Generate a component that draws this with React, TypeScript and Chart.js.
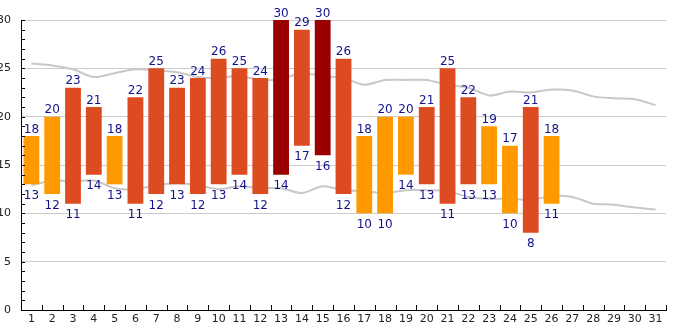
import React, { useEffect, useRef } from "react";
import { Chart, registerables } from "chart.js";

Chart.register(...registerables);

const days = Array.from({ length: 31 }, (_, i) => String(i + 1));
const maxTemps = [18, 20, 23, 21, 18, 22, 25, 23, 24, 26, 25, 24, 30, 29, 30, 26, 18, 20, 20, 21, 25, 22, 19, 17, 21, 18];
const minTemps = [13, 12, 11, 14, 13, 11, 12, 13, 12, 13, 14, 12, 14, 17, 16, 12, 10, 10, 14, 13, 11, 13, 13, 10, 8, 11];
const normalMax = [25.5, 25.3, 24.9, 24.1, 24.5, 24.9, 24.8, 24.6, 24.1, 24.0, 24.2, 23.8, 23.9, 24.5, 24.2, 24.0, 23.3, 23.8, 23.8, 23.8, 23.3, 23.0, 22.2, 22.6, 22.5, 22.8, 22.7, 22.1, 21.9, 21.8, 21.2];
const normalMin = [12.9, 13.4, 13.3, 13.4, 12.6, 12.5, 12.9, 13.1, 12.9, 12.5, 12.8, 12.6, 12.6, 12.1, 12.8, 12.4, 12.3, 12.1, 12.4, 12.4, 12.3, 11.7, 11.5, 11.5, 11.4, 11.8, 11.7, 11.0, 10.9, 10.6, 10.4];
const yTicks = [0, 5, 10, 15, 20, 25, 30];

const barColor = (mx: number) => (mx >= 30 ? "#990000" : mx > 20 ? "#dd4b21" : "#ff9900");

const decorPlugin = {
  id: "decor",
  afterDraw(chart: any) {
    const ctx = chart.ctx;
    const area = chart.chartArea;
    const y = chart.scales.y;
    const x = chart.scales.x;
    ctx.save();
    ctx.strokeStyle = "#000";
    ctx.lineWidth = 1;
    ctx.beginPath();
    for (let v = 0; v <= 30; v++) {
      const py = Math.round(y.getPixelForValue(v)) + 0.5;
      ctx.moveTo(area.left, py);
      ctx.lineTo(area.left + 4, py);
    }
    const n = days.length;
    const w = (area.right - area.left) / n;
    for (let i = 1; i <= n; i++) {
      const px = Math.round(area.left + i * w) + 0.5;
      ctx.moveTo(px, area.bottom - 5);
      ctx.lineTo(px, area.bottom);
    }
    ctx.stroke();

    const meta = chart.getDatasetMeta(0);
    ctx.fillStyle = "#12128a";
    ctx.font = "12px 'DejaVu Sans'";
    ctx.textAlign = "center";
    ctx.textBaseline = "alphabetic";
    meta.data.forEach((el: any, i: number) => {
      if (maxTemps[i] == null) return;
      const top = Math.min(el.y, el.base);
      const bottom = Math.max(el.y, el.base);
      ctx.fillText(String(maxTemps[i]), el.x, top - 3.5);
      ctx.fillText(String(minTemps[i]), el.x, bottom + 14.5);
    });
    ctx.restore();
  },
};

export default function App() {
  const ref = useRef<HTMLCanvasElement>(null);
  useEffect(() => {
    if (!ref.current) return;
    const chart = new Chart(ref.current, {
      type: "bar",
      data: {
        labels: days,
        datasets: [
          {
            type: "bar",
            data: maxTemps.map((mx, i) => [minTemps[i], mx]) as any,
            backgroundColor: maxTemps.map(barColor),
            borderWidth: 0,
            barPercentage: 0.76,
            categoryPercentage: 1,
            order: 1,
          },
          {
            type: "line",
            data: normalMax,
            borderColor: "#c8c8c8",
            borderWidth: 2,
            pointRadius: 0,
            tension: 0.3,
            order: 2,
          } as any,
          {
            type: "line",
            data: normalMin,
            borderColor: "#c8c8c8",
            borderWidth: 2,
            pointRadius: 0,
            tension: 0.3,
            order: 2,
          } as any,
        ],
      },
      options: {
        responsive: false,
        animation: false,
        layout: { padding: { top: 20, right: 19, left: 0, bottom: 0 } },
        plugins: { legend: { display: false }, tooltip: { enabled: false } },
        scales: {
          x: {
            offset: true,
            grid: { display: false, drawTicks: false },
            border: { display: true, color: "#000", width: 1 },
            ticks: { color: "#222", font: { family: "DejaVu Sans", size: 11 }, padding: 3, maxRotation: 0, autoSkip: false },
            afterFit: (s: any) => { s.height = 20; },
          },
          y: {
            min: 0,
            max: 30,
            afterBuildTicks: (s: any) => { s.ticks = yTicks.map((v) => ({ value: v })); },
            grid: {
              drawTicks: false,
              color: (c: any) => (c.tick && c.tick.value === 0 ? "rgba(0,0,0,0)" : "#cccccc"),
              lineWidth: 1,
            },
            border: { display: true, color: "#000", width: 1 },
            ticks: { color: "#222", font: { family: "DejaVu Sans", size: 11 }, padding: 10 },
            afterFit: (s: any) => { s.width = 21; },
          },
        },
      },
      plugins: [decorPlugin],
    });
    return () => chart.destroy();
  }, []);
  return (
    <div style={{ position: "absolute", left: 0, top: 0, width: 685, height: 330, background: "#fff" }}>
      <canvas ref={ref} width={685} height={330} />
    </div>
  );
}
